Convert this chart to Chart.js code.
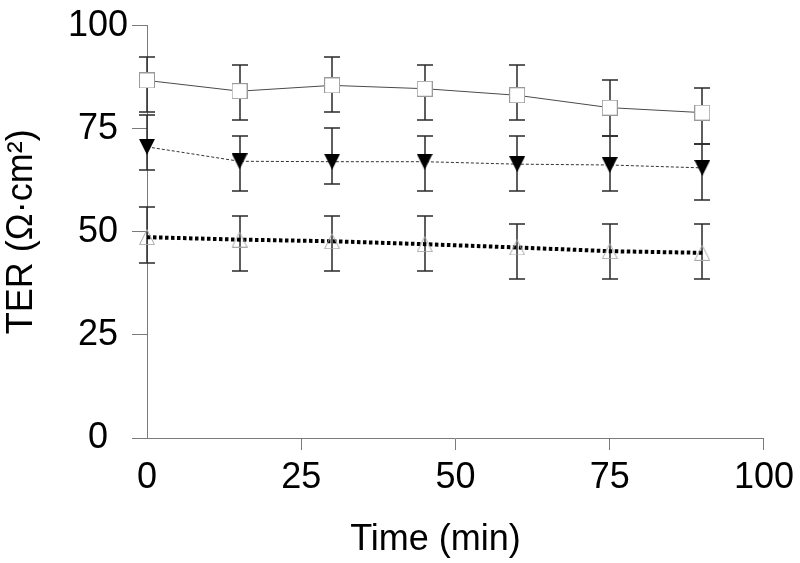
<!DOCTYPE html>
<html>
<head>
<meta charset="utf-8">
<script src="https://cdn.jsdelivr.net/npm/chart.js@4.4.1/dist/chart.umd.min.js"></script>
<style>
  html, body { margin: 0; padding: 0; background: #fff; }
  #wrap { width: 800px; height: 563px; }
</style>
</head>
<body>
<div id="wrap"><canvas id="c" width="800" height="563"></canvas></div>
<script>
// ---- data ----
const times = [0, 15, 30, 45, 60, 75, 90];

const squareMean = [86.7, 84.1, 85.5, 84.7, 83.1, 80.1, 78.9];
const squareHigh = [92.5, 90.4, 92.5, 90.4, 90.4, 86.7, 84.8];
const squareLow  = [79.0, 77.0, 79.0, 77.0, 77.0, 73.2, 71.2];

const downMean = [70.6, 67.1, 67.0, 67.0, 66.4, 66.2, 65.5];
const downHigh = [78.3, 73.2, 75.1, 73.2, 73.2, 73.2, 71.2];
const downLow  = [65.1, 59.8, 61.6, 59.8, 59.8, 59.8, 57.8];

const upMean = [48.7, 48.1, 47.7, 47.0, 46.2, 45.3, 44.9];
const upHigh = [55.9, 53.9, 53.9, 53.9, 52.0, 52.0, 52.0];
const upLow  = [42.5, 40.5, 40.5, 40.5, 38.6, 38.6, 38.6];

const xTicks = [0, 25, 50, 75, 100];
const yTicks = [0, 25, 50, 75, 100];

const xTitle = 'Time (min)';
const yTitle = 'TER (Ω·cm²)';

// ---- marker images ----
function marker(kind) {
  const c = document.createElement('canvas');
  c.width = 16; c.height = 16;
  const g = c.getContext('2d');
  if (kind === 'square') {
    g.fillStyle = '#fff';
    g.fillRect(0, 0, 16, 16);
    g.strokeStyle = '#9a9a9a';
    g.lineWidth = 1;
    g.strokeRect(0.5, 0.5, 15, 15);
  } else if (kind === 'down') {
    g.fillStyle = '#000';
    g.beginPath();
    g.moveTo(0, 0); g.lineTo(16, 0); g.lineTo(8, 16); g.closePath();
    g.fill();
  } else {
    g.strokeStyle = '#a8a8a8';
    g.lineWidth = 1;
    g.beginPath();
    g.moveTo(8, 0.5); g.lineTo(15.5, 15.5); g.lineTo(0.5, 15.5); g.closePath();
    g.stroke();
  }
  return c;
}

const errSets = [
  { high: squareHigh, low: squareLow },
  { high: downHigh, low: downLow },
  { high: upHigh, low: upLow }
];

const errorBars = {
  id: 'errorBars',
  beforeDatasetsDraw(chart) {
    const { ctx, scales: { x, y } } = chart;
    ctx.save();
    ctx.strokeStyle = '#2a2a2a';
    ctx.lineWidth = 1.5;
    errSets.forEach(s => {
      times.forEach((t, i) => {
        const px = Math.round(x.getPixelForValue(t));
        const yh = Math.round(y.getPixelForValue(s.high[i]));
        const yl = Math.round(y.getPixelForValue(s.low[i]));
        ctx.beginPath();
        ctx.moveTo(px, yh); ctx.lineTo(px, yl);
        ctx.moveTo(px - 8, yh); ctx.lineTo(px + 8, yh);
        ctx.moveTo(px - 8, yl); ctx.lineTo(px + 8, yl);
        ctx.stroke();
      });
    });
    ctx.restore();
  }
};

const FONT = "'Liberation Sans', Arial, sans-serif";
const axisColor = '#7a7a7a';

// x-axis title, placed slightly left of the axis centre as in the reference
const xTitlePlugin = {
  id: 'xTitlePlugin',
  afterDraw(chart) {
    const { ctx, scales: { x } } = chart;
    ctx.save();
    ctx.font = '36px ' + FONT;
    ctx.fillStyle = '#000';
    ctx.textAlign = 'center';
    ctx.textBaseline = 'middle';
    ctx.fillText(xTitle, (x.left + x.right) / 2 - 20, x.bottom - 23);
    ctx.restore();
  }
};

const pts = arr => times.map((t, i) => ({ x: t, y: arr[i] }));

new Chart(document.getElementById('c'), {
  type: 'line',
  data: {
    datasets: [
      {
        label: 'square',
        data: pts(squareMean),
        borderColor: '#4a4a4a',
        borderWidth: 1,
        pointStyle: marker('square'),
        pointRadius: 8,
        clip: false,
        tension: 0
      },
      {
        label: 'down',
        data: pts(downMean),
        borderColor: '#333',
        borderWidth: 1,
        borderDash: [3, 2],
        pointStyle: marker('down'),
        pointRadius: 8,
        clip: false,
        tension: 0
      },
      {
        label: 'up',
        data: pts(upMean),
        borderColor: '#000',
        borderWidth: 4,
        borderDash: [3.5, 2.5],
        borderCapStyle: 'butt',
        pointStyle: marker('up'),
        pointRadius: 8,
        clip: false,
        tension: 0
      }
    ]
  },
  options: {
    responsive: false,
    animation: false,
    events: [],
    layout: { padding: { left: 0, right: 35, top: 22, bottom: 0 } },
    plugins: { legend: { display: false }, tooltip: { enabled: false } },
    scales: {
      x: {
        type: 'linear',
        min: 0, max: 100,
        afterBuildTicks: s => { s.ticks = xTicks.map(v => ({ value: v })); },
        afterFit: s => { s.height = 125; },
        border: { display: true, color: axisColor, width: 1 },
        grid: {
          drawOnChartArea: false, drawTicks: true, tickLength: 12,
          tickColor: ctx => (ctx.tick && ctx.tick.value === 0) ? 'rgba(0,0,0,0)' : axisColor
        },
        ticks: {
          padding: 6, color: '#000',
          font: { family: FONT, size: 36 },
          maxRotation: 0, autoSkip: false
        },
        title: { display: false }
      },
      y: {
        type: 'linear',
        min: 0, max: 100,
        afterBuildTicks: s => { s.ticks = yTicks.map(v => ({ value: v })); },
        afterFit: s => { s.width = 147; },
        border: { display: true, color: axisColor, width: 1 },
        grid: {
          drawOnChartArea: false, drawTicks: true, tickLength: 15,
          tickColor: axisColor
        },
        ticks: {
          padding: 4, color: '#000', crossAlign: 'center',
          font: { family: FONT, size: 36 }
        },
        title: {
          display: true, text: yTitle, color: '#000',
          font: { family: FONT, size: 36 },
          padding: { top: 0, bottom: 0 }
        }
      }
    }
  },
  plugins: [errorBars, xTitlePlugin]
});
</script>
</body>
</html>
